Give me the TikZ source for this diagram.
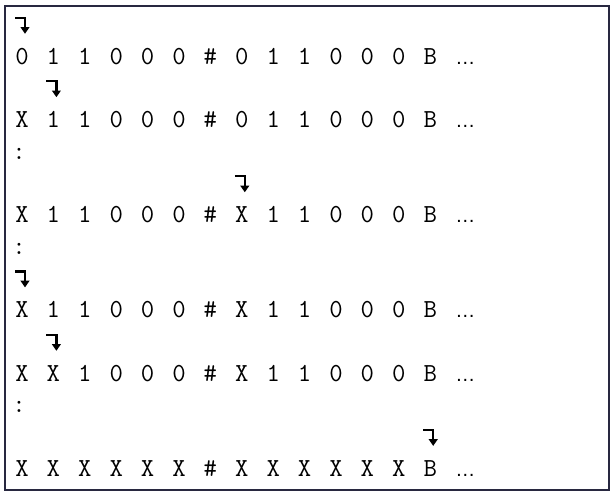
\documentclass[tikz,border=0pt]{standalone}
\usepackage{fontspec}
\newfontfamily\dotsfont{Liberation Sans}
\usetikzlibrary{arrows.meta}
\definecolor{framecol}{RGB}{40,40,64}
\tikzset{
  cell/.style={font=\ttfamily\fontsize{19.5}{22}\selectfont, inner sep=0pt, anchor=base},
  dots/.style={cell, font=\dotsfont\fontsize{15}{18}\selectfont, anchor=base west},
  headmark/.style={line width=1.7pt, -{Triangle[width=6.5pt,length=5pt]}}
}
\begin{document}
\begin{tikzpicture}[x=0.75pt,y=-0.75pt]
  \useasboundingbox (0,0) rectangle (616,497);
  \draw[framecol, line width=1.1pt] (5,6) rectangle (609,490);
  % tape contents, one row per step
  \foreach \k/\tape in {
      1/{0,1,1,0,0,0,\#,0,1,1,0,0,0,B},
      3/{X,1,1,0,0,0,\#,0,1,1,0,0,0,B},
      6/{X,1,1,0,0,0,\#,X,1,1,0,0,0,B},
      9/{X,1,1,0,0,0,\#,X,1,1,0,0,0,B},
      11/{X,X,1,0,0,0,\#,X,1,1,0,0,0,B},
      14/{X,X,X,X,X,X,\#,X,X,X,X,X,X,B}} {
    \foreach \s [count=\i from 0] in \tape
      \node[cell] (t\k c\i) at (22+31.4*\i, 32.5+31.7*\k) {\s};
    \node[dots] (t\k e) at (455, 32.5+31.7*\k) {…};
  }
  % skipped steps
  \foreach \k in {4,7,12}
    \node[cell] (skip\k) at (19, 32.5+31.7*\k) {:};
  % head positions
  \foreach \k/\i in {0/0,2/1,5/7,8/0,10/1,13/13}
    \draw[headmark] (22+31.4*\i-7, 25.8+31.7*\k-8) -| (22+31.4*\i+3, 25.8+31.7*\k+8);
\end{tikzpicture}
\end{document}
